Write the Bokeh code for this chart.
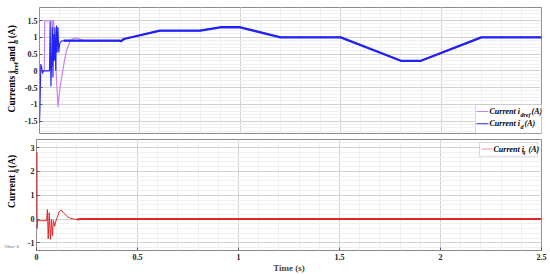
import numpy as np
from bokeh.plotting import figure
from bokeh.layouts import column, row
from bokeh.models import FixedTicker, Label, BoxAnnotation, Range1d
from bokeh.core.properties import value
from bokeh.embed import file_html
from bokeh.resources import INLINE

# ---------------- data ----------------
t_d = [0.0, 0.002, 0.0066, 0.011, 0.015, 0.02, 0.05, 0.053, 0.057, 0.060,
       0.064, 0.067, 0.071, 0.074, 0.077, 0.081, 0.085, 0.088, 0.092, 0.096,
       0.100, 0.105, 0.110, 0.12, 0.15, 0.40, 0.405, 0.42, 0.60, 0.80,
       0.90, 1.00, 1.20, 1.50, 1.80, 1.90, 2.20, 2.50]
i_d = [-1.55, -1.2, 0.2, 0.1, -0.08, 0.0, 0.0, 1.48, -0.47, 0.2,
       1.3, -0.2, 1.1, 0.3, 1.3, 0.0, 1.35, 0.55, 1.3, 0.55,
       0.8, 0.86, 0.89, 0.9, 0.9, 0.9, 0.88, 0.95, 1.2, 1.2,
       1.3, 1.3, 1.0, 1.0, 0.3, 0.3, 1.0, 1.0]

t_dref = [0.0, 0.024, 0.026, 0.062, 0.064, 0.067, 0.070, 0.092, 0.095, 0.099,
          0.105, 0.1155, 0.125, 0.135, 0.152, 0.168, 0.185, 0.20, 0.22, 0.40,
          0.405, 0.42, 0.60, 0.80, 0.90, 1.00, 1.20, 1.50, 1.80, 1.90,
          2.20, 2.50]
i_dref = [0.0, 0.0, 1.5, 1.5, 0.1, 1.5, 1.5, -1.08, -0.9, -0.68,
          -0.4, 0.0, 0.33, 0.62, 0.87, 0.97, 0.98, 0.95, 0.9, 0.9,
          0.88, 0.95, 1.2, 1.2, 1.3, 1.3, 1.0, 1.0, 0.3, 0.3,
          1.0, 1.0]

t_q = [0.0, 0.0015, 0.003, 0.005, 0.05, 0.054, 0.058, 0.063, 0.069, 0.074,
       0.079, 0.084, 0.090, 0.095, 0.102, 0.112, 0.122, 0.135, 0.152, 0.168,
       0.185, 0.20, 0.22, 2.50]
i_q = [0.0, 2.82, -0.4, -0.07, -0.07, 0.4, -0.83, 0.27, -0.85, 0.0,
       -0.7, -0.05, -0.3, -0.1, 0.05, 0.3, 0.38, 0.25, 0.11, 0.03,
       0.0, -0.02, 0.0, 0.0]

x_ticks = [0, 0.5, 1, 1.5, 2, 2.5]
x_tick_labels = ["0", "0.5", "1", "1.5", "2", "2.5"]
top_y_ticks = [-1.5, -1, -0.5, 0, 0.5, 1, 1.5]
top_y_tick_labels = ["-1.5", "-1", "-0.5", "0", "0.5", "1", "1.5"]
bot_y_ticks = [-1, 0, 1, 2, 3]
bot_y_tick_labels = ["-1", "0", "1", "2", "3"]

FONT = "Liberation Serif"
BLUE = "#2222f5"
PINK = "#c983ea"
RED = "#e02626"

x_minor = [round(0.1 * k, 2) for k in range(26)]
top_minor = [round(-1.8 + 0.1 * k, 2) for k in range(37)]
bot_minor = [round(-1.2 + 0.2 * k, 2) for k in range(23)]

LW = 21            # width of the side strip holding the rotated y titles
TOP_H = 136
BOT_H = 139


def style(p, yticks, ylabels, yminor):
    p.background_fill_color = "white"
    p.border_fill_color = "white"
    p.outline_line_color = "#8a8a8a"
    p.outline_line_width = 1
    xt = FixedTicker(ticks=x_ticks, minor_ticks=x_minor)
    yt = FixedTicker(ticks=yticks, minor_ticks=yminor)
    p.xaxis.ticker = xt
    p.yaxis.ticker = yt
    p.xgrid.ticker = xt
    p.ygrid.ticker = yt
    p.xaxis.major_label_overrides = dict(zip(x_ticks, x_tick_labels))
    p.yaxis.major_label_overrides = dict(zip(yticks, ylabels))
    for g in (p.xgrid, p.ygrid):
        g.grid_line_color = "#d2d2d2"
        g.grid_line_width = 1
        g.minor_grid_line_color = "#f0f0f0"
    for ax in (p.xaxis, p.yaxis):
        ax.axis_line_color = None
        ax.major_tick_in = 3
        ax.major_tick_out = 0
        ax.major_tick_line_color = "#555555"
        ax.minor_tick_in = 0
        ax.minor_tick_out = 0
        ax.major_label_text_font = FONT
        ax.major_label_text_font_size = "8px"
        ax.major_label_text_font_style = "bold"
        ax.major_label_text_color = "#222222"
    p.yaxis.major_label_standoff = 2
    p.xaxis.major_label_standoff = 3


def lab(p, text, x, y, size, style_="bold italic", base="middle", y_units="screen", color="black"):
    p.add_layout(Label(x=x, y=y, x_units="screen", y_units=y_units, text=text,
                       text_font=FONT, text_font_size=size,
                       text_font_style=style_, text_baseline=base, text_align="left",
                       text_color=color))


def strip(h):
    s = figure(width=LW, height=h, x_range=Range1d(0, LW), y_range=Range1d(0, h),
               output_backend="svg", toolbar_location=None,
               min_border_left=0, min_border_right=0, min_border_top=0, min_border_bottom=0)
    s.axis.visible = False
    s.grid.visible = False
    s.outline_line_color = None
    s.background_fill_color = "white"
    s.border_fill_color = "white"
    return s


def rot(s, xs, ys, texts, sizes):
    for x, y, t, fs in zip(xs, ys, texts, sizes):
        s.text(x=[x], y=[y], text=[t], angle=np.pi / 2, text_font=value(FONT),
               text_font_size=fs, text_font_style="bold", text_align="left",
               text_baseline="middle", text_color="black")


# ---------------- top figure ----------------
p1 = figure(width=550 - LW, height=TOP_H, x_range=Range1d(0, 2.5), y_range=Range1d(-1.87, 1.89),
            output_backend="svg", toolbar_location=None,
            min_border_left=36 - LW, min_border_right=9, min_border_top=7, min_border_bottom=3)
style(p1, top_y_ticks, top_y_tick_labels, top_minor)
p1.xaxis.visible = False

p1.line(t_dref, i_dref, color=PINK, line_width=1.2)
p1.line(t_d, i_d, color=BLUE, line_width=1.1)
k = next(i for i, t in enumerate(t_d) if t >= 0.12)
p1.line(t_d[k:], i_d[k:], color=BLUE, line_width=2.3)

# legend (top), frame-relative pixels
p1.add_layout(BoxAnnotation(left=436, right=505, bottom=0, top=29,
                            left_units="screen", right_units="screen",
                            bottom_units="screen", top_units="screen",
                            fill_color="white", fill_alpha=1.0,
                            line_color="#6a6a6a", line_width=0.8))
p1.add_layout(BoxAnnotation(left=437, right=449, bottom=21.5, top=22.5,
                            left_units="screen", right_units="screen",
                            bottom_units="screen", top_units="screen",
                            fill_color=PINK, fill_alpha=1.0, line_alpha=0))
p1.add_layout(BoxAnnotation(left=437, right=449, bottom=9.2, top=10.2,
                            left_units="screen", right_units="screen",
                            bottom_units="screen", top_units="screen",
                            fill_color=BLUE, fill_alpha=1.0, line_alpha=0))
lab(p1, "Current i", 450, 22, "8px")
lab(p1, "dref", 481, 19, "6px")
lab(p1, "(A)", 492, 22, "8px")
lab(p1, "Current i", 450, 9.7, "8px")
lab(p1, "d", 481, 6.7, "6px")
lab(p1, "(A)", 485, 9.7, "8px")

s1 = strip(TOP_H)
rot(s1, [11, 15.5, 11, 15.5, 11], [22.7, 64, 77.7, 96.7, 102.7],
    ["Currents i", "dref", " and i", "d", " (A)"],
    ["9.5px", "7px", "9.5px", "7px", "9.5px"])

# ---------------- bottom figure ----------------
p2 = figure(width=550 - LW, height=BOT_H, x_range=Range1d(0, 2.5), y_range=Range1d(-1.32, 3.34),
            output_backend="svg", toolbar_location=None,
            min_border_left=36 - LW, min_border_right=9, min_border_top=3, min_border_bottom=0)
style(p2, bot_y_ticks, bot_y_tick_labels, bot_minor)
p2.xaxis.axis_label = "Time (s)"
p2.xaxis.axis_label_text_font = FONT
p2.xaxis.axis_label_text_font_size = "9px"
p2.xaxis.axis_label_text_font_style = "bold"
p2.xaxis.axis_label_standoff = 0

p2.line(t_q, i_q, color=RED, line_width=1.0)
m = next(i for i, t in enumerate(t_q) if t >= 0.2)
p2.line(t_q[m:], i_q[m:], color=RED, line_width=2.0)

# legend (bottom): x frame-relative pixels, y in data units
p2.add_layout(BoxAnnotation(left=443, right=501, bottom=2.636, top=3.213,
                            left_units="screen", right_units="screen",
                            fill_color="white", fill_alpha=1.0,
                            line_color="#6a6a6a", line_width=0.8))
p2.add_layout(BoxAnnotation(left=445, right=456, bottom=2.927, top=2.947,
                            left_units="screen", right_units="screen",
                            fill_color=RED, fill_alpha=1.0, line_alpha=0))
lab(p2, "Current i", 457, 2.937, "8px", y_units="data")
lab(p2, "q", 486, 2.81, "6px", y_units="data")
lab(p2, "(A)", 492, 2.937, "8px", y_units="data")

s2 = strip(BOT_H)
rot(s2, [11, 15.5, 11], [53.3, 97, 103.3], ["Current i", "q", " (A)"],
    ["9.5px", "7px", "9.5px"])
s2.text(x=[4], y=[5], text=["Offset=0"], text_font=value(FONT), text_font_size="4px",
        text_align="left", text_baseline="middle", text_color="#555555")

layout = column(row(s1, p1, spacing=0), row(s2, p2, spacing=0), spacing=0)
open("out.html", "w").write(file_html(layout, INLINE))
